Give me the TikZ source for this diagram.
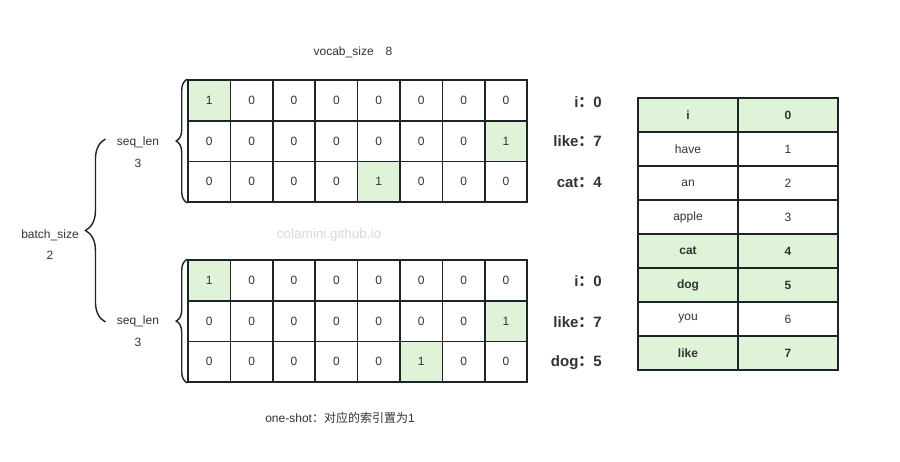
\documentclass[tikz,border=0pt]{standalone}
\usepackage{fontspec}
\setmainfont{Liberation Sans}
\newfontfamily\cjk{Noto Sans CJK SC}
\usetikzlibrary{positioning,decorations.pathreplacing}
\definecolor{hit}{HTML}{DFF3D8}
\definecolor{ink}{HTML}{1E2326}
\definecolor{txt}{HTML}{333333}
\definecolor{mark}{HTML}{D8D8D8}
\tikzset{
  cell/.style={draw=ink,line width=1.6pt,minimum width=42.4pt,minimum height=40.7pt,inner sep=0pt,font=\fontsize{12}{14}\selectfont,text=txt},
  trow/.style={draw=ink,line width=1.6pt,minimum width=100pt,minimum height=34pt,inner sep=0pt,font=\fontsize{12}{14}\selectfont,text=txt},
  hrow/.style={trow,fill=hit,font=\fontsize{12}{14}\selectfont\bfseries},
  lbl/.style={font=\fontsize{12}{14}\selectfont,text=txt},
  key/.style={font=\fontsize{15}{17}\selectfont\bfseries,text=txt,anchor=east,inner sep=0pt},
  brc/.style={decorate,decoration={brace,amplitude=#1},draw=ink,line width=1.4pt},
}

\begin{document}
\begin{tikzpicture}[x=1pt,y=-1pt]
  \useasboundingbox[fill=white] (0,0) rectangle (900,461);
  % one-hot grids, top = sentence 1, bottom = sentence 2
  \foreach \r/\ha/\hb in {0/0/0,1/7/7,2/4/5} {
    \foreach \c in {0,...,7} {
      \pgfmathtruncatemacro\va{\c==\ha}
      \pgfmathtruncatemacro\vb{\c==\hb}
      \def\fa{none}\ifnum\va=1 \def\fa{hit}\fi
      \def\fb{none}\ifnum\vb=1 \def\fb{hit}\fi
      \node[cell,fill=\fa] (t-\r-\c) at ({209.2+42.4*\c},{100.35+40.7*\r}) {\va};
      \node[cell,fill=\fb] (b-\r-\c) at ({209.2+42.4*\c},{280.35+40.7*\r}) {\vb};
    }
  }
  \node[lbl] (vs) at (353,52) {vocab\_size\quad 8};
  \node[lbl,text=mark,font=\fontsize{13.5}{15}\selectfont] (wm) at (329,235) {colamini.github.io};
  \node[lbl] (cap) at (340,418) {one-shot{\cjk ：对应的索引置为}1};
  % words of each row
  \node[key] (k-t-0) at (602,102) {i{\cjk ：}0};
  \node[key] (k-t-1) at (602,141) {like{\cjk ：}7};
  \node[key] (k-t-2) at (602,182) {cat{\cjk ：}4};
  \node[key] (k-b-0) at (602,281) {i{\cjk ：}0};
  \node[key] (k-b-1) at (602,322) {like{\cjk ：}7};
  \node[key] (k-b-2) at (602,363) {dog{\cjk ：}5};
  % vocabulary table
  \foreach \w/\n/\st in {i/0/hrow,have/1/trow,an/2/trow,apple/3/trow,cat/4/hrow,dog/5/hrow,you/6/trow,like/7/hrow} {
    \node[\st] (w-\n) at (688,{115+34*\n}) {\w};
    \node[\st] (v-\n) at (788,{115+34*\n}) {\n};
  }
  % braces
  \node[lbl] (sq-t) at (138,142) {seq\_len};
  \node[lbl,below=4pt of sq-t] (sn-t) {3};
  \node[lbl] (sq-b) at (138,321) {seq\_len};
  \node[lbl,below=4pt of sq-b] (sn-b) {3};
  \node[lbl] (bs) at (50,235) {batch\_size};
  \node[lbl,below=4pt of bs] (bn) {2};
  \draw[brc=11] (t-2-0.south west) -- (t-0-0.north west);
  \draw[brc=11] (b-2-0.south west) -- (b-0-0.north west);
  \draw[brc=20] ([xshift=-8pt,yshift=-1pt]sq-b.west) -- ([xshift=-8pt,yshift=3pt]sq-t.west);
\end{tikzpicture}
\end{document}
